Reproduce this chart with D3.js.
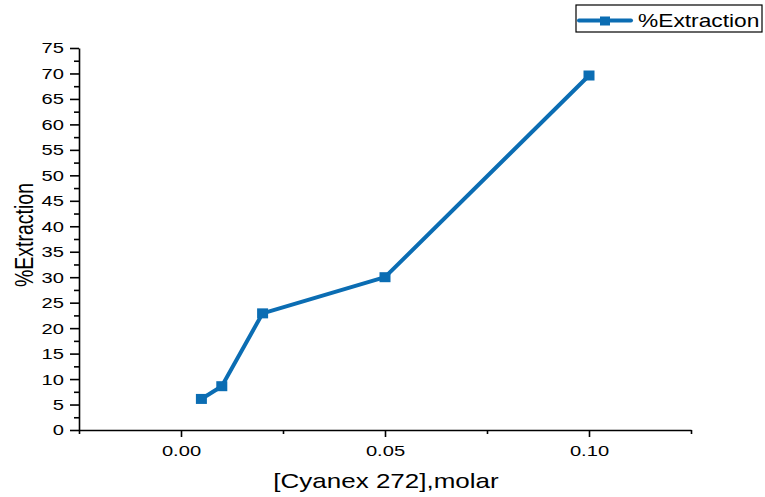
<!DOCTYPE html>
<html>
<head>
<meta charset="utf-8">
<script src="https://cdn.jsdelivr.net/npm/d3@7/dist/d3.min.js"></script>
<style>
  html, body { margin: 0; padding: 0; background: #fff; }
  svg { display: block; font-family: "Liberation Sans", Arial, sans-serif; }
</style>
</head>
<body>
<svg id="chart" width="765" height="497"></svg>
<script>
// Extractant concentration (molar) and % extraction
const concentration = [0.005, 0.01, 0.02, 0.05, 0.10];
const extraction = [6.1, 8.6, 22.9, 30.0, 69.6];
const xTicks = [0.00, 0.05, 0.10];
const yTicks = [0, 5, 10, 15, 20, 25, 30, 35, 40, 45, 50, 55, 60, 65, 70, 75];
const seriesName = "%Extraction";
const xTitle = "[Cyanex 272],molar";
const yTitle = "%Extraction";

const color = "#0b6db3";
const stretch = 1.3; // text is drawn wide
const svg = d3.select("#chart");
const plotLeft = 79, plotRight = 691, plotTop = 48, plotBottom = 430;

const x = d3.scaleLinear().domain([-0.025, 0.125]).range([plotLeft, plotRight]);
const y = d3.scaleLinear().domain([0, 75]).range([plotBottom, plotTop]);

// widen tick labels about their anchor point
function widenLabels(g, dx, dy) {
  g.selectAll(".tick text")
    .attr("x", null).attr("y", null)
    .attr("font-size", 15.5).attr("fill", "#000")
    .attr("transform", `translate(${dx},${dy}) scale(${stretch},1)`);
}

// Y axis: major ticks every 5, minor in between
svg.append("g")
  .attr("transform", `translate(${plotLeft},0)`)
  .call(d3.axisLeft(y).tickValues(d3.range(2.5, 75, 5)).tickSize(5).tickFormat(""))
  .call(g => g.select(".domain").remove());
svg.append("g")
  .attr("transform", `translate(${plotLeft},0)`)
  .call(d3.axisLeft(y).tickValues(yTicks).tickSize(9).tickSizeOuter(0).tickFormat(d3.format("d")))
  .call(g => widenLabels(g, -15, 0));

// X axis: labelled majors, minors at the quarter steps and the ends
svg.append("g")
  .attr("transform", `translate(0,${plotBottom})`)
  .call(d3.axisBottom(x).tickValues([-0.025, 0.025, 0.075, 0.125]).tickSize(4).tickFormat(""))
  .call(g => g.select(".domain").remove());
svg.append("g")
  .attr("transform", `translate(0,${plotBottom})`)
  .call(d3.axisBottom(x).tickValues(xTicks).tickSize(7).tickSizeOuter(0).tickFormat(d3.format(".2f")))
  .call(g => g.selectAll(".tick text").attr("dy", null))
  .call(g => widenLabels(g, 0, 26));

svg.selectAll(".domain, .tick line").attr("stroke", "#000").attr("stroke-width", 1.6);

// Axis titles
svg.append("text")
  .attr("transform", `translate(${386},488) scale(${stretch},1)`)
  .attr("text-anchor", "middle").attr("font-size", 20)
  .text(xTitle);
svg.append("text")
  .attr("transform", `translate(33,${(plotTop + plotBottom) / 2 - 4}) scale(${stretch},1) rotate(-90)`)
  .attr("text-anchor", "middle").attr("font-size", 19.5)
  .text(yTitle);

// Data line and square markers
const pts = concentration.map((c, i) => [c, extraction[i]]);
svg.append("path")
  .datum(pts)
  .attr("fill", "none").attr("stroke", color).attr("stroke-width", 4)
  .attr("stroke-linejoin", "round")
  .attr("d", d3.line().x(d => x(d[0])).y(d => y(d[1])));
svg.selectAll("rect.pt").data(pts).enter().append("rect")
  .attr("class", "pt")
  .attr("x", d => x(d[0]) - 5.5).attr("y", d => y(d[1]) - 5)
  .attr("width", 11).attr("height", 10).attr("fill", color);

// Legend
const lg = svg.append("g");
lg.append("rect").attr("x", 576).attr("y", 5).attr("width", 186).attr("height", 27)
  .attr("fill", "#fff").attr("stroke", "#000").attr("stroke-width", 1.2);
lg.append("line").attr("x1", 579).attr("x2", 631).attr("y1", 20.5).attr("y2", 20.5)
  .attr("stroke", color).attr("stroke-width", 4).attr("stroke-linecap", "round");
lg.append("rect").attr("x", 600).attr("y", 16.5).attr("width", 10).attr("height", 9).attr("fill", color);
lg.append("text").attr("transform", `translate(638,27) scale(${stretch},1)`)
  .attr("font-size", 17.5).text(seriesName);
</script>
</body>
</html>
